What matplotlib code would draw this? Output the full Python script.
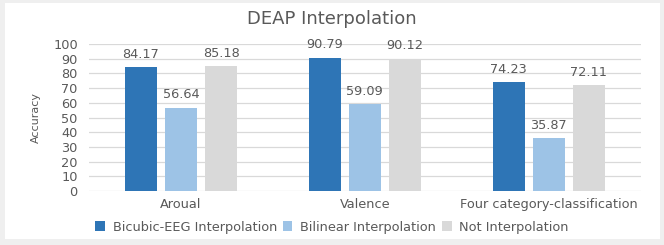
import matplotlib
matplotlib.use("Agg")
import matplotlib.pyplot as plt
import numpy as np

# data
categories = ["Aroual", "Valence", "Four category-classification"]
series_names = ["Bicubic-EEG Interpolation", "Bilinear Interpolation", "Not Interpolation"]
bicubic = [84.17, 90.79, 74.23]
bilinear = [56.64, 59.09, 35.87]
not_interp = [85.18, 90.12, 72.11]
yticks = [0, 10, 20, 30, 40, 50, 60, 70, 80, 90, 100]

colors = ["#2E75B6", "#9DC3E6", "#D9D9D9"]
txt = "#595959"
fs = 9.3

fig = plt.figure(figsize=(6.64, 2.45), dpi=100, facecolor="#efefef")
# white chart panel as a background axes
bg = fig.add_axes([0.007, 0.025, 0.987, 0.963], zorder=0)
bg.set_facecolor("white")
bg.set_xticks([])
bg.set_yticks([])
for s in bg.spines.values():
    s.set_visible(False)

ax = fig.add_axes([0.134, 0.2204, 0.831, 0.60], zorder=1)
ax.set_facecolor("none")

x = np.arange(len(categories))
w = 0.172
step = 0.218
for i, (vals, name) in enumerate(zip([bicubic, bilinear, not_interp], series_names)):
    pos = x + (i - 1) * step
    bars = ax.bar(pos, vals, width=w, color=colors[i], label=name, zorder=3)
    for b, v in zip(bars, vals):
        ax.annotate(f"{v:.2f}", (b.get_x() + b.get_width() / 2, v), xytext=(0, 4.5),
                    textcoords="offset points", ha="center", va="bottom",
                    fontsize=fs, color=txt)

ax.set_xlim(-0.5, 2.5)
ax.set_ylim(0, 100)
ax.set_yticks(yticks)
ax.set_xticks(x)
ax.set_xticklabels(categories, fontsize=fs, color=txt)
ax.tick_params(axis="y", labelsize=fs, labelcolor=txt, length=0, pad=8)
ax.tick_params(axis="x", length=0, pad=5)
ax.grid(axis="y", color="#d9d9d9", linewidth=0.9, zorder=0)
ax.set_axisbelow(True)
for s in ax.spines.values():
    s.set_visible(False)

ax.set_ylabel("Accuracy", fontsize=8, color=txt, labelpad=9)

fig.text(0.5, 0.922, "DEAP Interpolation", ha="center", va="center",
         fontsize=13, color=txt, zorder=2)

leg = fig.legend(loc="center", bbox_to_anchor=(0.5, 0.073), ncol=3, frameon=False,
                 fontsize=fs, labelcolor=txt, handlelength=0.75, handleheight=0.75,
                 handletextpad=0.6, columnspacing=0.45)
leg.set_zorder(2)

fig.savefig("out.png", dpi=100, facecolor=fig.get_facecolor())
